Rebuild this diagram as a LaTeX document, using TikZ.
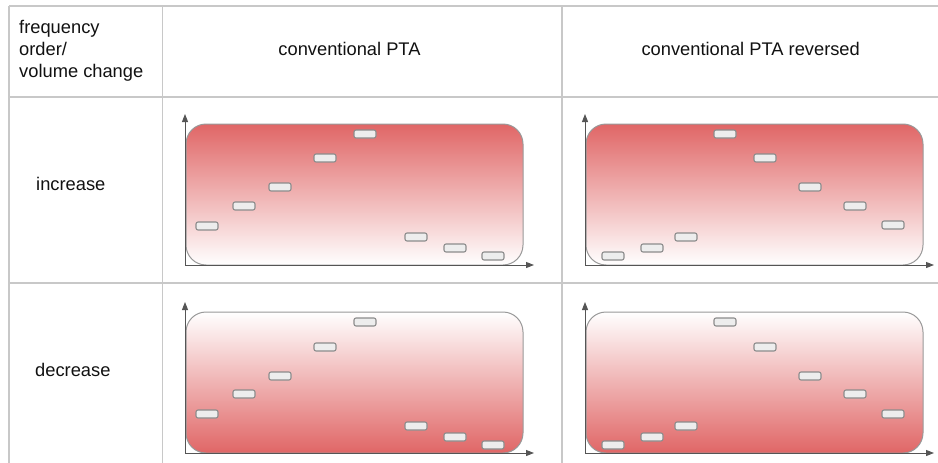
\documentclass[tikz,border=0pt]{standalone}
\usepackage{fontspec}
\setmainfont{Liberation Sans}
\usetikzlibrary{arrows.meta}

\definecolor{gridline}{HTML}{C8C8C8}
\definecolor{panelred}{HTML}{E06666}
\definecolor{panelrim}{HTML}{999999}
\definecolor{barfill}{HTML}{EDEDED}
\definecolor{barrim}{HTML}{8C8C8C}
\definecolor{axiscol}{HTML}{555555}
\definecolor{ink}{HTML}{111111}

\tikzset{
  cell/.style={font=\fontsize{18.3}{22}\selectfont, text=ink, inner sep=0pt},
  gridrule/.style={draw=gridline, line width=1.3pt},
  bar/.style={draw=barrim, fill=barfill, line width=1.1pt, rounded corners=2pt,
    minimum width=22pt, minimum height=8pt, inner sep=0pt},
  axis/.style={draw=axiscol, line width=1pt, -{Triangle[length=8pt,width=6pt]}},
  panel/.style={draw=panelrim, line width=1pt, rounded corners=20pt},
  % one small chart: shaded rounded panel, two axes, eight level bars
  pics/chart/.style n args={3}{code={
    \path[panel, top color=#1, bottom color=#2] (1,0) rectangle (338,-141);
    \coordinate (o) at (0,0);
    \coordinate (ytip) at (0,-151);
    \coordinate (xtip) at (349,0);
    \draw[axis] (o) -- (ytip);
    \draw[axis] (o) -- (xtip);
    \foreach \bx/\by [count=\k] in {#3} \node[bar] (b\k) at (\bx,\by) {};
  }}
}

\begin{document}
\begin{tikzpicture}[x=1pt,y=-1pt]
\useasboundingbox (0,0) rectangle (938,463);

% table rules
\draw[gridrule] (9,6) -- (938,6);
\draw[gridrule] (9,97) -- (938,97);
\draw[gridrule] (9,283) -- (938,283);
\draw[gridrule] (9,6) -- (9,463);
\draw[gridrule] (162.5,6) -- (162.5,463);
\draw[gridrule] (562,6) -- (562,463);

% header texts
\node[cell, anchor=base west] (hdr1) at (19,33.3) {frequency};
\node[cell, anchor=base west] (hdr2) at (19,55.3) {order/};
\node[cell, anchor=base west] (hdr3) at (19,77.3) {volume change};
\node[cell, anchor=base] (colA) at (349.5,55) {conventional PTA};
\node[cell, anchor=base] (colB) at (750.7,55.5) {conventional PTA reversed};

% row labels
\node[cell, anchor=base west] (rowA) at (36,190.7) {increase};
\node[cell, anchor=base west] (rowB) at (35,376) {decrease};

% charts
\pic (ca) at (185,265) {chart={panelred}{white}{22/-39,59/-59,95/-78,140/-107,180/-131,231/-28,270/-17,308/-9}};
\pic (cb) at (585,265) {chart={panelred}{white}{28/-9,67/-17,101/-28,140/-131,180/-107,225/-78,270/-59,308/-40}};
\pic (cc) at (185,453) {chart={white}{panelred}{22/-39,59/-59,95/-77,140/-106,180/-131,231/-27,270/-16,308/-8}};
\pic (cd) at (585,453) {chart={white}{panelred}{28/-8,67/-16,101/-27,140/-131,180/-106,225/-77,270/-59,308/-39}};
\end{tikzpicture}
\end{document}
